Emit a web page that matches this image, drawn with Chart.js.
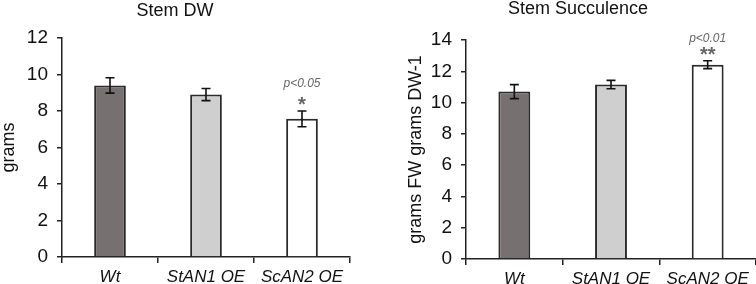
<!DOCTYPE html>
<html>
<head>
<meta charset="utf-8">
<script src="https://cdn.jsdelivr.net/npm/chart.js@4.4.0/dist/chart.umd.min.js"></script>
<style>
  body { margin: 0; background: #fff; width: 756px; height: 284px; position: relative; overflow: hidden; }
  #left { position: absolute; left: 0; top: 0; width: 385px; height: 284px; }
  #right { position: absolute; left: 400px; top: 0; width: 356px; height: 284px; }
</style>
</head>
<body>
<div id="left"><canvas id="dwChart"></canvas></div>
<div id="right"><canvas id="succChart"></canvas></div>
<script>
// data
const categories = ['Wt', 'StAN1 OE', 'ScAN2 OE'];
const dwValues = [9.4, 8.9, 7.57];
const dwErrors = [0.42, 0.33, 0.43];
const dwStars = ['', '', '*'];
const dwPvals = ['', '', 'p<0.05'];
const succValues = [10.7, 11.15, 12.42];
const succErrors = [0.45, 0.27, 0.25];
const succStars = ['', '', '**'];
const succPvals = ['', '', 'p<0.01'];
const barColors = ['#767070', '#d0cfcf', '#ffffff'];

const FONT = "'Liberation Sans', Arial, sans-serif";
const axisColor = '#222';

// error bars + significance marks
const errorBars = {
  id: 'errorBars',
  afterDatasetsDraw(chart, args, opts) {
    const ctx = chart.ctx;
    const x = chart.scales.x, y = chart.scales.y;
    const vals = chart.data.datasets[0].data;
    ctx.save();
    ctx.strokeStyle = '#111';
    ctx.lineWidth = 1.6;
    vals.forEach((v, i) => {
      const px = x.getPixelForValue(i);
      const top = y.getPixelForValue(v + opts.errors[i]);
      const bot = y.getPixelForValue(v - opts.errors[i]);
      ctx.beginPath();
      ctx.moveTo(px, top); ctx.lineTo(px, bot);
      ctx.moveTo(px - 4.5, top); ctx.lineTo(px + 4.5, top);
      ctx.moveTo(px - 4.5, bot); ctx.lineTo(px + 4.5, bot);
      ctx.stroke();
      ctx.fillStyle = '#666';
      ctx.textAlign = 'center';
      ctx.textBaseline = 'middle';
      if (opts.stars[i]) {
        ctx.font = 'bold 20px ' + FONT;
        ctx.fillText(opts.stars[i], px, top - opts.starGap);
      }
      if (opts.pvals[i]) {
        ctx.font = 'italic 12px ' + FONT;
        ctx.fillText(opts.pvals[i], px, top - opts.pGap);
      }
    });
    ctx.restore();
  }
};

function makeChart(el, title, values, errors, stars, pvals, yMax, yTitle, opt) {
  return new Chart(el, {
    type: 'bar',
    data: {
      labels: categories,
      datasets: [{
        data: values,
        backgroundColor: barColors,
        borderColor: '#2a2a2a',
        borderWidth: 2,
        barPercentage: 0.33,
        categoryPercentage: 1
      }]
    },
    options: {
      responsive: true,
      maintainAspectRatio: false,
      animation: false,
      devicePixelRatio: 1,
      layout: { padding: { left: 0, right: opt.right, top: 0, bottom: 0 } },
      plugins: {
        legend: { display: false },
        tooltip: { enabled: false },
        title: {
          display: true,
          text: title,
          color: '#111',
          font: { family: FONT, size: 18, weight: 'normal', lineHeight: 1 },
          padding: { top: opt.titleTop, bottom: opt.titleBottom }
        },
        errorBars: { errors: errors, stars: stars, pvals: pvals, starGap: opt.starGap, pGap: opt.pGap }
      },
      scales: {
        x: {
          offset: true,
          grid: { offset: true, drawOnChartArea: false, tickLength: 6, color: axisColor, lineWidth: 1.5 },
          border: { color: axisColor, width: 1.5 },
          ticks: { color: '#111', padding: 4, font: { family: FONT, size: 17, style: 'italic' } },
          afterFit(scale) { scale.height = opt.xHeight; }
        },
        y: {
          min: 0,
          max: yMax,
          ticks: { stepSize: 2, color: '#111', padding: 9, font: { family: FONT, size: 19 } },
          grid: { drawOnChartArea: false, tickLength: 5, color: axisColor, lineWidth: 1.5 },
          border: { color: axisColor, width: 1.5 },
          title: {
            display: true,
            text: yTitle,
            color: '#111',
            font: { family: FONT, size: 18, lineHeight: 1 },
            padding: { top: opt.yTitlePad, bottom: 0 }
          },
          afterFit(scale) { scale.width = opt.yWidth; }
        }
      }
    },
    plugins: [errorBars]
  });
}

makeChart(document.getElementById('dwChart'), 'Stem DW', dwValues, dwErrors, dwStars, dwPvals, 12, 'grams',
  { right: 35, titleTop: 2, titleBottom: 18, xHeight: 27, yWidth: 62, yTitlePad: 0, starGap: 6, pGap: 27 });

makeChart(document.getElementById('succChart'), 'Stem Succulence', succValues, succErrors, succStars, succPvals, 14, 'grams FW grams DW-1',
  { right: 0, titleTop: 0, titleBottom: 22, xHeight: 25, yWidth: 66, yTitlePad: 7, starGap: 5, pGap: 22 });
</script>
</body>
</html>
